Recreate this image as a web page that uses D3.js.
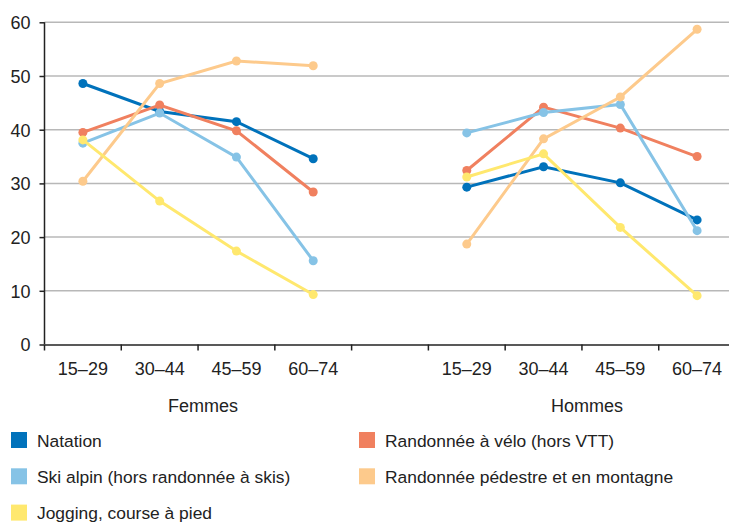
<!DOCTYPE html>
<html>
<head>
<meta charset="utf-8">
<script src="https://cdn.jsdelivr.net/npm/d3@7"></script>
<style>
  body { margin: 0; background: #fff; }
  svg text { font-family: "Liberation Sans Narrow", "Arial Narrow", "Liberation Sans", sans-serif; fill: #222; }
</style>
</head>
<body>
<svg id="chart" width="729" height="523"></svg>
<script>
// tranches d'age et groupes
var ages = ["15–29", "30–44", "45–59", "60–74"];
var groups = ["Femmes", "Hommes"];
var yTicks = [0, 10, 20, 30, 40, 50, 60];

var seriesNames = ["Natation", "Randonnée à vélo (hors VTT)", "Ski alpin (hors randonnée à skis)",
                   "Randonnée pédestre et en montagne", "Jogging, course à pied"];
var seriesColors = ["#0072bb", "#f0805f", "#86c3e6", "#fdca8c", "#ffe86e"];

// valeurs : femmes 4 points puis hommes 4 points
var natation  = [48.6, 43.4, 41.5, 34.6,   29.3, 33.1, 30.1, 23.2];
var velo      = [39.5, 44.6, 39.8, 28.4,   32.4, 44.2, 40.3, 35.0];
var ski       = [37.5, 43.1, 34.9, 15.6,   39.4, 43.2, 44.7, 21.2];
var pedestre  = [30.4, 48.6, 52.8, 51.9,   18.7, 38.3, 46.1, 58.7];
var jogging   = [38.1, 26.7, 17.4,  9.3,   31.2, 35.5, 21.8,  9.1];

var allValues = [natation, velo, ski, pedestre, jogging];

var chart = {};
chart.svg = d3.select("#chart");
chart.left = 44.5;
chart.right = 735.5;
chart.top = 22.3;
chart.bottom = 344.5;

// 9 bandes : 4 femmes, un vide, 4 hommes
chart.slots = ["F0","F1","F2","F3","gap","H0","H1","H2","H3"];
chart.x = d3.scaleBand().domain(chart.slots).range([chart.left, chart.right]).padding(0);
chart.y = d3.scaleLinear().domain([0, 60]).range([chart.bottom, chart.top]);

function slotOf(i){ return i < 4 ? "F" + i : "H" + (i - 4); }
function cx(i){ return chart.x(slotOf(i)) + chart.x.bandwidth()/2; }

// grille
chart.svg.append("g")
    .selectAll("line")
    .data(yTicks.filter(function(d){ return d > 0; }))
    .enter().append("line")
    .attr("x1", chart.left).attr("x2", chart.right)
    .attr("y1", function(d){ return chart.y(d); })
    .attr("y2", function(d){ return chart.y(d); })
    .style("stroke", "#b8b8b8")
    .style("stroke-width", 1.5);

// axe y
var yAxis = chart.svg.append("g")
    .attr("transform", "translate(" + chart.left + ",0)")
    .call(d3.axisLeft(chart.y).tickValues(yTicks).tickSize(5).tickPadding(9).tickFormat(d3.format("d")));
yAxis.select(".domain").attr("stroke", "#222").attr("stroke-width", 1.5).attr("d", "M0," + chart.bottom + "V" + chart.top);
yAxis.selectAll(".tick line").attr("stroke", "#222").attr("stroke-width", 1.5);
yAxis.selectAll("text").attr("font-size", 18).attr("dy", "0.36em");

// axe x
var xAxis = chart.svg.append("g")
    .attr("transform", "translate(0," + chart.bottom + ")")
    .call(d3.axisBottom(chart.x).tickSize(0).tickFormat(""));
xAxis.select(".domain").attr("stroke", "#222").attr("stroke-width", 1.5);
xAxis.selectAll(".tick").remove();

var tickPos = chart.slots.map(function(s){ return chart.x(s); }).concat([chart.right]);
xAxis.selectAll("line.sep")
    .data(tickPos)
    .enter().append("line")
    .attr("class", "sep")
    .attr("x1", function(d){ return d; }).attr("x2", function(d){ return d; })
    .attr("y1", 0).attr("y2", 6)
    .attr("stroke", "#222").attr("stroke-width", 1.5);

chart.svg.append("g")
    .selectAll("text")
    .data(d3.range(8))
    .enter().append("text")
    .attr("x", function(i){ return cx(i); })
    .attr("y", 375)
    .attr("text-anchor", "middle")
    .attr("font-size", 18)
    .text(function(i){ return ages[i % 4]; });

chart.svg.append("g")
    .selectAll("text")
    .data(groups)
    .enter().append("text")
    .attr("x", function(d, i){ return (cx(i*4) + cx(i*4 + 3))/2 + 5; })
    .attr("y", 412)
    .attr("text-anchor", "middle")
    .attr("font-size", 18)
    .text(function(d){ return d; });

// lignes
var line = d3.line()
    .x(function(d){ return cx(d.i); })
    .y(function(d){ return chart.y(d.v); });

allValues.forEach(function(vals, s){
    var g = chart.svg.append("g");
    [0, 4].forEach(function(start){
        var pts = vals.slice(start, start + 4).map(function(v, k){ return {i: start + k, v: v}; });
        g.append("path")
            .attr("d", line(pts))
            .attr("fill", "none")
            .attr("stroke", seriesColors[s])
            .attr("stroke-width", 3);
        g.selectAll("circle.p" + start)
            .data(pts)
            .enter().append("circle")
            .attr("cx", function(d){ return cx(d.i); })
            .attr("cy", function(d){ return chart.y(d.v); })
            .attr("r", 4.5)
            .attr("fill", seriesColors[s]);
    });
});

// legende
var legendOrder = [0, 1, 2, 3, 4];
var legend = chart.svg.append("g")
    .selectAll("g")
    .data(legendOrder)
    .enter().append("g")
    .attr("transform", function(d, k){
        var col = k % 2, row = Math.floor(k / 2);
        return "translate(" + (col === 0 ? 11 : 359) + "," + (432 + row * 36.3) + ")";
    });
legend.append("rect")
    .attr("width", 16).attr("height", 16)
    .attr("fill", function(d){ return seriesColors[d]; });
legend.append("text")
    .attr("x", 26)
    .attr("y", 14.5)
    .attr("font-size", 17.4)
    .text(function(d){ return seriesNames[d]; });
</script>
</body>
</html>
